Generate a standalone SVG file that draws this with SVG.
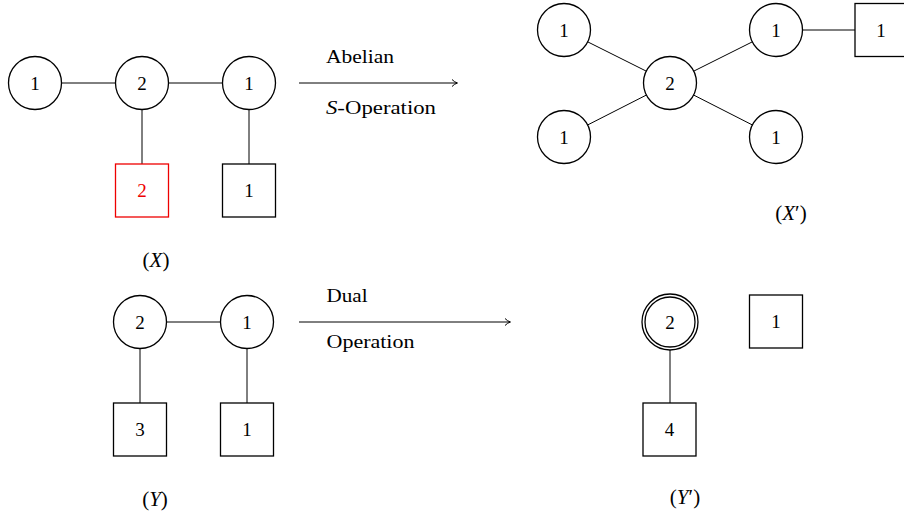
<svg xmlns="http://www.w3.org/2000/svg" width="904" height="515" viewBox="0 0 904 515">
<defs>
<style>
.n{fill:#fff;stroke:#000;stroke-width:1.3}
.r{fill:#fff;stroke:#e00;stroke-width:1.3}
.e{stroke:#000;stroke-width:1;fill:none}
text{font-family:"Liberation Serif","DejaVu Serif",serif;font-size:19px;fill:#000}
.c{text-anchor:middle;dominant-baseline:central}
.lb{font-size:21px}
.it{font-style:italic}
</style>
<marker id="ah" viewBox="0 0 10 10" refX="8" refY="5" markerWidth="10" markerHeight="10" markerUnits="userSpaceOnUse" orient="auto">
<path d="M3,1.5 Q5.5,4.2 8.5,5 Q5.5,5.8 3,8.5" fill="none" stroke="#000" stroke-width="1"/>
</marker>
</defs>
<rect width="904" height="515" fill="#fff"/>
<g id="connectors">
<line class="e" x1="35" y1="83" x2="248" y2="83"/>
<line class="e" x1="142" y1="83" x2="142" y2="164"/>
<line class="e" x1="249" y1="83" x2="249" y2="164"/>
<line class="e" x1="299" y1="83" x2="457" y2="83" marker-end="url(#ah)"/>
<line class="e" x1="564" y1="30" x2="670" y2="83"/>
<line class="e" x1="564" y1="137" x2="670" y2="83"/>
<line class="e" x1="776" y1="30" x2="670" y2="83"/>
<line class="e" x1="776" y1="137" x2="670" y2="83"/>
<line class="e" x1="776" y1="30" x2="855" y2="30"/>
<line class="e" x1="140" y1="322" x2="247" y2="322"/>
<line class="e" x1="140" y1="322" x2="140" y2="403"/>
<line class="e" x1="247" y1="322" x2="247" y2="403"/>
<line class="e" x1="299" y1="322" x2="510" y2="322" marker-end="url(#ah)"/>
<line class="e" x1="670" y1="322" x2="670" y2="403"/>
</g>
<g id="x1"><circle class="n" cx="35" cy="83" r="26.5"/><text class="c" x="35" y="83">1</text></g>
<g id="x2"><circle class="n" cx="142" cy="83" r="26.5"/><text class="c" x="142" y="83">2</text></g>
<g id="x3"><circle class="n" cx="249" cy="83" r="26.5"/><text class="c" x="249" y="83">1</text></g>
<g id="xf2"><rect class="r" x="115.5" y="164" width="53" height="53"/><text class="c" x="142" y="190.5" style="fill:#e00">2</text></g>
<g id="xf1"><rect class="n" x="222.5" y="164" width="53" height="53"/><text class="c" x="249" y="190.5">1</text></g>
<text class="c lb" x="156" y="260">(<tspan class="it">X</tspan>)</text>
<text x="326" y="63" textLength="68" lengthAdjust="spacingAndGlyphs">Abelian</text>
<text x="326" y="114" textLength="110" lengthAdjust="spacingAndGlyphs"><tspan class="it">S</tspan>-Operation</text>
<g id="p1"><circle class="n" cx="564" cy="30" r="26.5"/><text class="c" x="564" y="30">1</text></g>
<g id="p2"><circle class="n" cx="670" cy="83" r="26.5"/><text class="c" x="670" y="83">2</text></g>
<g id="p3"><circle class="n" cx="564" cy="137" r="26.5"/><text class="c" x="564" y="137">1</text></g>
<g id="p4"><circle class="n" cx="776" cy="30" r="26.5"/><text class="c" x="776" y="30">1</text></g>
<g id="p5"><circle class="n" cx="776" cy="137" r="26.5"/><text class="c" x="776" y="137">1</text></g>
<g id="pf"><rect class="n" x="855" y="3.5" width="53" height="53"/><text class="c" x="881" y="30">1</text></g>
<text class="c lb" x="791" y="213">(<tspan class="it">X</tspan>′)</text>
<g id="y1"><circle class="n" cx="140" cy="322" r="26.5"/><text class="c" x="140" y="322">2</text></g>
<g id="y2"><circle class="n" cx="247" cy="322" r="26.5"/><text class="c" x="247" y="322">1</text></g>
<g id="yf1"><rect class="n" x="113.5" y="403" width="53" height="53"/><text class="c" x="140" y="429.5">3</text></g>
<g id="yf2"><rect class="n" x="220.5" y="403" width="53" height="53"/><text class="c" x="247" y="429.5">1</text></g>
<text class="c lb" x="155" y="499">(<tspan class="it">Y</tspan>)</text>
<text x="326.5" y="302" textLength="41" lengthAdjust="spacingAndGlyphs">Dual</text>
<text x="326.5" y="348" textLength="88" lengthAdjust="spacingAndGlyphs">Operation</text>
<g id="q1"><circle class="n" cx="670" cy="322" r="28"/><circle class="n" cx="670" cy="322" r="25"/><text class="c" x="670" y="322">2</text></g>
<g id="qf1"><rect class="n" x="749.5" y="295" width="53" height="53"/><text class="c" x="776" y="321.5">1</text></g>
<g id="qf2"><rect class="n" x="643" y="403" width="53" height="53"/><text class="c" x="669.5" y="429.5">4</text></g>
<text class="c lb" x="685" y="497">(<tspan class="it">Y</tspan>′)</text>
</svg>
